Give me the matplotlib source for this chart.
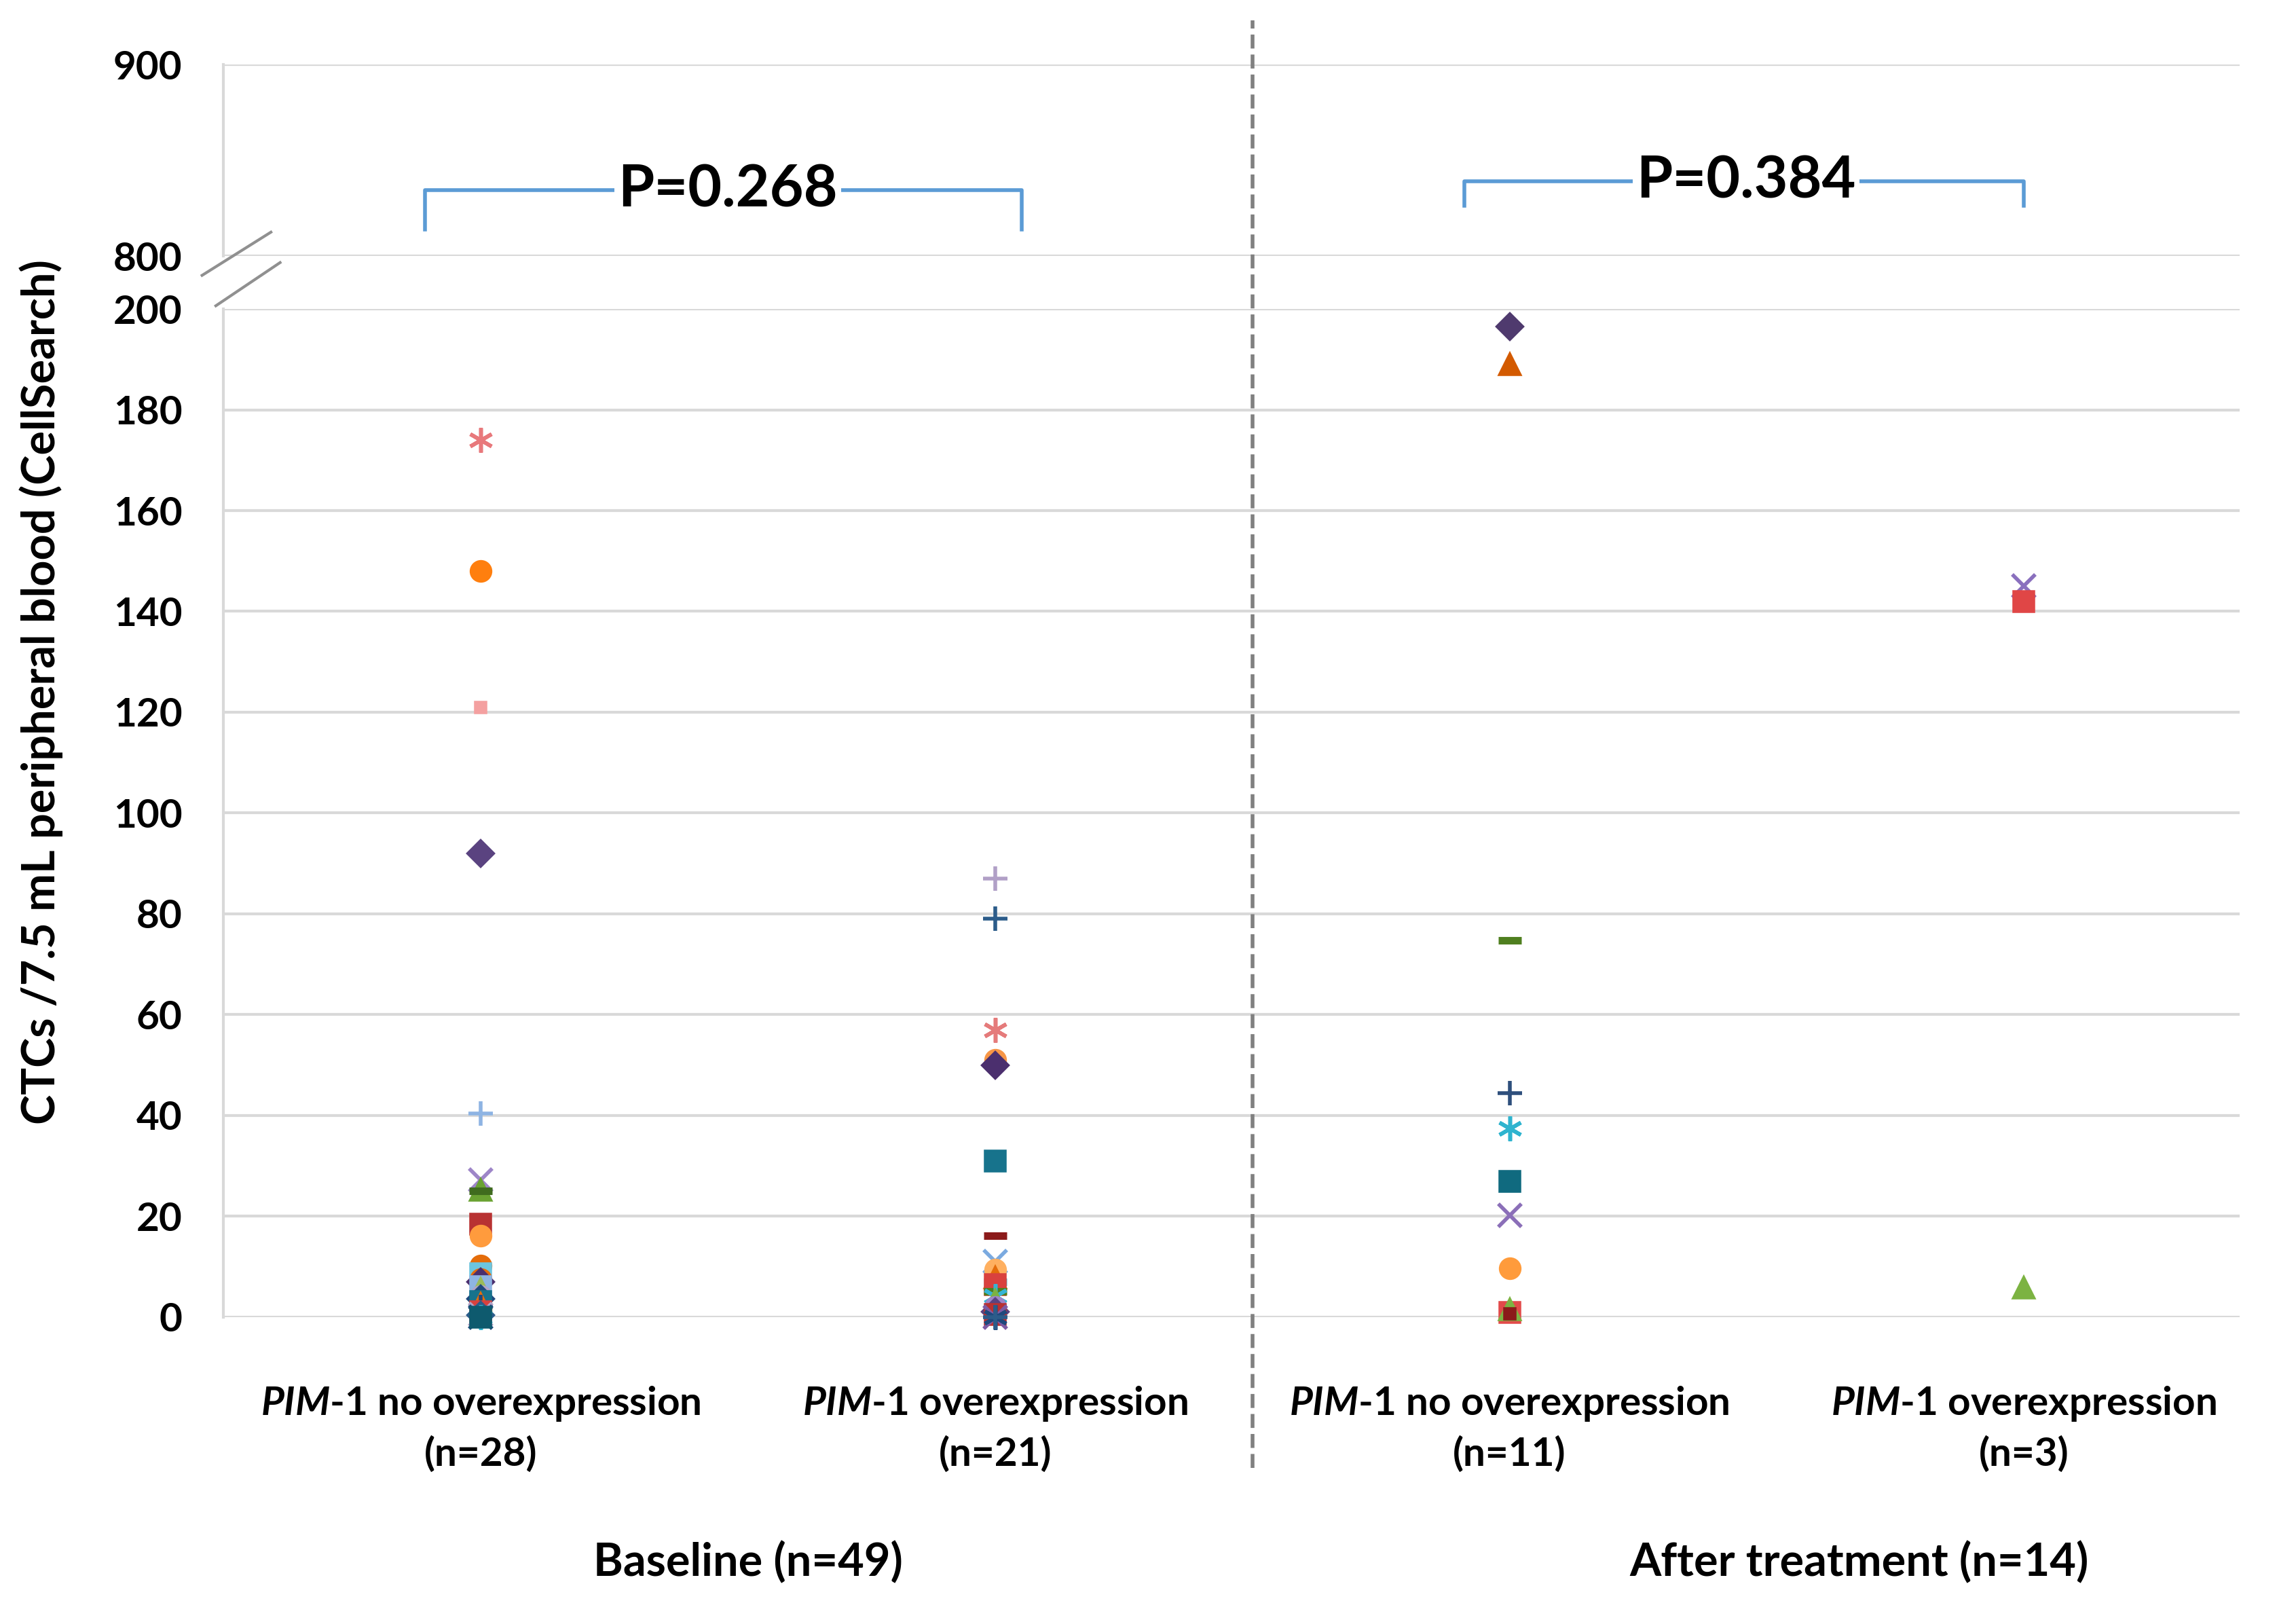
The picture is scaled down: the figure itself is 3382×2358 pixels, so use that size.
import matplotlib.pyplot as plt
import matplotlib.transforms as mtransforms
from matplotlib.lines import Line2D

plt.rcParams['font.family'] = ['Lato', 'DejaVu Sans']
plt.rcParams['font.weight'] = 'bold'
plt.rcParams['mathtext.fontset'] = 'custom'
plt.rcParams['mathtext.it'] = 'Lato:italic:bold'
plt.rcParams['mathtext.rm'] = 'Lato:bold'

# Dados (CTCs / 7.5 mL)
posicoes = [1, 2, 3, 4]

# Baseline, PIM-1 sem superexpressao (n=28)
valores_no_base = [174, 148, 121, 92, 40.4, 27.2, 25.2, 25.0, 18.4, 16.1,
                   10.2, 8.6, 7.5, 7.0, 6.0, 5.5, 4.1, 3.6, 3.0, 2.5,
                   2.0, 1.4, 1.0, 0.5, 0.3, 0, 0, 0]
marcadores_no_base = ['*', 'o', 's', 'D', '+', 'x', '^', '_', 's', 'o',
                      'o', 's', 'o', 'D', 's', '^', 'o', 'D', 's', '^',
                      '+', '_', 's', 'x', 'D', '*', 'x', 's']
cores_no_base = ['#e8797c', '#ff7f0e', '#f4a0a0', '#5a4380', '#8eb4e3', '#9e86c8', '#6aa232', '#3f6b1e', '#b83232', '#ff9b3d',
                 '#e46c0a', '#6cc5e0', '#e46c0a', '#4b2f6e', '#8eb4e3', '#9bbb59', '#b3a2c7', '#1f497d', '#17738c', '#e46c0a',
                 '#1f497d', '#c3d69b', '#d9413e', '#b3a2c7', '#2c5c8a', '#31b6d0', '#1f497d', '#0e5a6e']

# Baseline, PIM-1 com superexpressao (n=21)
valores_over_base = [87, 79, 57, 51, 50, 31, 16.1, 11, 9.4, 7.8,
                     6.9, 6.4, 5.1, 4.1, 3.2, 2.0, 1.0, 0.5, 0, 0, 0]
marcadores_over_base = ['+', '+', '*', 'o', 'D', 's', '_', 'x', 'o', '^',
                        '_', 's', '_', '*', '^', 'o', 'D', 's', 'x', '*', '+']
cores_over_base = ['#b1a0c7', '#2c5c8a', '#e57b7b', '#f79646', '#4b2f6e', '#17738c', '#8b1a1a', '#7baae0', '#ffb060', '#e46c0a',
                   '#4bacc6', '#d9413e', '#4f7f1f', '#35b5d5', '#7cb342', '#9e86c8', '#5a4380', '#b83232', '#7e5ba3', '#1f497d', '#2c5c8a']

# Apos tratamento, PIM-1 sem superexpressao (n=11)
valores_no_trat = [196.5, 188.9, 74.7, 44.4, 37.4, 26.9, 20.1, 9.6, 0.9, 1.5, 0.6]
marcadores_no_trat = ['D', '^', '_', '+', '*', 's', 'x', 'o', 's', '^', 's']
cores_no_trat = ['#4f3a6e', '#d35a00', '#4f7f1f', '#2e4f7c', '#2fb4cf', '#106a7f', '#8b6fb8', '#ff9b3b', '#e24a4a', '#7cb342', '#8b1a1a']

# Apos tratamento, PIM-1 com superexpressao (n=3)
valores_over_trat = [145.1, 141.9, 5.8]
marcadores_over_trat = ['x', 's', '^']
cores_over_trat = ['#8a70be', '#e04646', '#7cb342']

valores = [valores_no_base, valores_over_base, valores_no_trat, valores_over_trat]
marcadores = [marcadores_no_base, marcadores_over_base, marcadores_no_trat, marcadores_over_trat]
cores = [cores_no_base, cores_over_base, cores_no_trat, cores_over_trat]

rotulos_x = [r'$\mathit{PIM}$-$\mathit{1}$ no overexpression', r'$\mathit{PIM}$-$\mathit{1}$ overexpression',
             r'$\mathit{PIM}$-$\mathit{1}$ no overexpression', r'$\mathit{PIM}$-$\mathit{1}$ overexpression']
rotulos_n = ['(n=28)', '(n=21)', '(n=11)', '(n=3)']
rotulos_grupo = ['Baseline (n=49)', 'After treatment (n=14)']
pos_grupo = [1.52, 3.68]
p_valores = ['P=0.268', 'P=0.384']

cinza = '#d9d9d9'
fig = plt.figure(figsize=(16.91, 11.79), dpi=200)
ax_top = fig.add_axes([0.0974, 0.840, 0.8782, 0.1196])
ax = fig.add_axes([0.0974, 0.1774, 0.8782, 0.6296])

for a in (ax, ax_top):
    a.set_xlim(0.5, 4.42)
    for s in ['top', 'right', 'bottom']:
        a.spines[s].set_visible(False)
    a.spines['left'].set_color(cinza)
    a.spines['left'].set_linewidth(1.5)
    a.grid(axis='y', color=cinza, linewidth=1.5)
    a.set_axisbelow(True)
    a.set_xticks([])
    a.tick_params(axis='y', length=0, pad=22, labelsize=21)

ax.set_ylim(0, 200)
ax.set_yticks(range(0, 201, 20))
ax_top.set_ylim(800, 900)
ax_top.set_yticks([800, 900])

# Pontos
tamanhos = {'o': 10, 's': 10, 'D': 9, '^': 10, '+': 13, 'x': 12, '*': 13, '_': 12}
for x, vals, mks, cs in zip(posicoes, valores, marcadores, cores):
    for v, m, c in zip(vals, mks, cs):
        mk = (6, 2, 0) if m == '*' else m
        ms = tamanhos[m]
        if m == 's' and v in (121, 0.6):
            ms = 5
        mew = 4 if m == '_' else 2
        ax.plot(x, v, marker=mk, color=c, markersize=ms, markeredgewidth=mew,
                linestyle='none', clip_on=False, zorder=3)

# Linha tracejada separando os grupos
ax.axvline(2.5, ymin=-0.15, ymax=1.286, color='#808080', linestyle='--', linewidth=2, clip_on=False)

# Rotulos do eixo x
trans = mtransforms.blended_transform_factory(ax.transData, fig.transFigure)
for x, rot, n in zip(posicoes, rotulos_x, rotulos_n):
    ax.text(x, 0.1232, rot, transform=trans, ha='center', va='center', fontsize=21, fontweight='bold')
    ax.text(x, 0.0919, n, transform=trans, ha='center', va='center', fontsize=21, fontweight='bold')

for x, rot in zip(pos_grupo, rotulos_grupo):
    ax.text(x, 0.024, rot, transform=trans, ha='center', va='center', fontsize=24, fontweight='bold')

fig.text(0.018, 0.568, 'CTCs /7.5 mL peripheral blood (CellSearch)', rotation=90,
         ha='center', va='center', fontsize=24, fontweight='bold')

# Colchetes com valores de P
azul = '#5b9bd5'
colchetes = [(0.891, 2.051, 834.6, 813.8, 1.48), (2.912, 4.0, 839.2, 826.2, 3.46)]
for (x0, x1, y, yb, xt), p in zip(colchetes, p_valores):
    ax_top.plot([x0, x0, x1, x1], [yb, y, y, yb], color=azul, linewidth=2, clip_on=False)
    ax_top.text(xt, y, p, ha='center', va='center', fontsize=31, fontweight='bold',
                bbox=dict(facecolor='white', edgecolor='none', pad=2))

# Marcas de quebra do eixo
fig.add_artist(Line2D([0.088, 0.118], [0.828, 0.855], color='#909090', linewidth=1.5))
fig.add_artist(Line2D([0.094, 0.122], [0.809, 0.836], color='#909090', linewidth=1.5))

fig.savefig('out.png', dpi=200)
